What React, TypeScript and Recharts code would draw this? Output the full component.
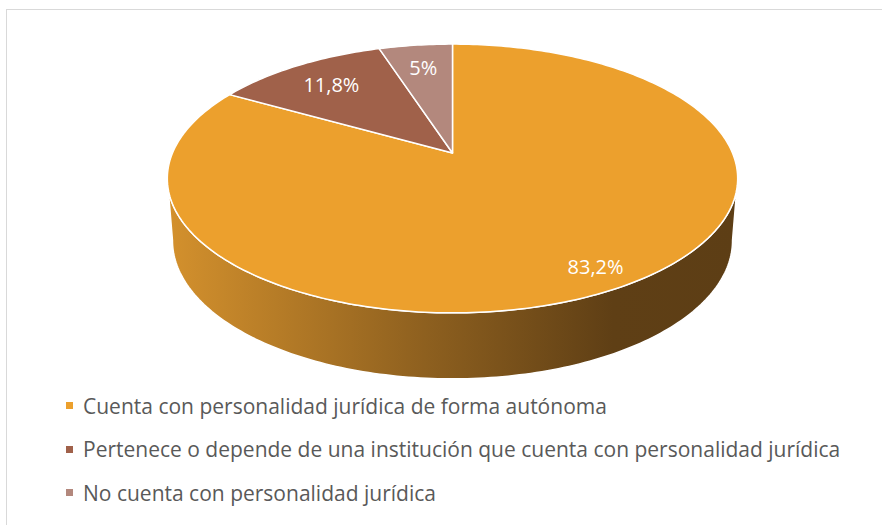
import React from "react";
import { PieChart, Pie, Cell, Legend } from "recharts";

const categories = [
  "Cuenta con personalidad jurídica de forma autónoma",
  "Pertenece o depende de una institución que cuenta con personalidad jurídica",
  "No cuenta con personalidad jurídica",
];
const shares = [83.2, 11.8, 5];
const colors = ["#ECA02D", "#A0614A", "#B3887D"];

const data = categories.map((name, i) => ({ name, value: shares[i], color: colors[i] }));

const FONT = "'Open Sans', sans-serif";
// fake 3d: tilt + a bit of perspective, back is farther away
const TILT = 0.4627;
const PERSP = 0.1896;
const SIDE_LO = -169.1; // visible outer wall, in degrees
const SIDE_HI = -10.9;

function project(cx: number, cy: number, r: number, deg: number, frac = 1) {
  const t = (deg * Math.PI) / 180;
  const u = Math.cos(t) * frac;
  const v = Math.sin(t) * frac;
  const w = 1 + PERSP * v;
  return [cx + (r * u) / w, cy - (r * TILT * v) / w];
}

function projectBottom(cx: number, cy: number, r: number, deg: number) {
  const t = (deg * Math.PI) / 180;
  const u = Math.cos(t);
  const v = Math.sin(t);
  const w = 1 + PERSP * v;
  return [cx + (0.982 * r * u) / w, cy - (r * TILT * v) / w + (61 - 5 * v)];
}

function arc(fn: (a: number) => number[], a: number, b: number) {
  const steps = Math.max(2, Math.ceil(Math.abs(b - a)));
  const pts: string[] = [];
  for (let i = 0; i <= steps; i++) {
    const p = fn(a + ((b - a) * i) / steps);
    pts.push(`${p[0].toFixed(2)},${p[1].toFixed(2)}`);
  }
  return pts;
}

const Slice3D = (props: any) => {
  const { cx, cy, outerRadius, startAngle, endAngle, fill, index } = props;
  const top = arc((a) => project(cx, cy, outerRadius, a), startAngle, endAngle);
  const topPath = `M${cx},${cy} L${top.join(" L")} Z`;

  const lo = Math.min(startAngle, endAngle);
  const hi = Math.max(startAngle, endAngle);
  const sides: string[] = [];
  for (const shift of [-360, 0, 360]) {
    const a = Math.max(lo, SIDE_LO + shift);
    const b = Math.min(hi, SIDE_HI + shift);
    if (a < b) {
      const t = arc((x) => project(cx, cy, outerRadius, x), a, b);
      const bt = arc((x) => projectBottom(cx, cy, outerRadius, x), b, a);
      sides.push(`M${t.join(" L")} L${bt.join(" L")} Z`);
    }
  }
  const gid = `side-grad-${index}`;
  return (
    <g>
      {sides.length > 0 && (
        <defs>
          <linearGradient id={gid} gradientUnits="userSpaceOnUse" x1={cx - outerRadius * 1.02} x2={cx + outerRadius * 1.02} y1={0} y2={0}>
            <stop offset="0%" stopColor="#D4912D" />
            <stop offset="45%" stopColor="#8E601F" />
            <stop offset="78%" stopColor="#5F3F15" />
            <stop offset="100%" stopColor="#5D3E15" />
          </linearGradient>
        </defs>
      )}
      {sides.map((d, i) => (
        <path key={i} d={d} fill={`url(#${gid})`} stroke="#ffffff" strokeWidth={1.5} strokeLinejoin="round" />
      ))}
      <path d={topPath} fill={fill} stroke="#ffffff" strokeWidth={1.5} strokeLinejoin="round" />
    </g>
  );
};

const renderLabel = (props: any) => {
  const { cx, cy, midAngle, outerRadius, value } = props;
  const frac = value > 50 ? 0.87 : 0.76;
  const [x, y] = project(cx, cy, outerRadius, midAngle, frac);
  return (
    <text x={x} y={y} fill="#ffffff" fontFamily={FONT} fontSize={20} textAnchor="middle" dominantBaseline="central">
      {String(value).replace(".", ",")}%
    </text>
  );
};

const renderLegend = (props: any) => {
  const items = [...(props.payload || [])].sort(
    (a: any, b: any) => categories.indexOf(a.value) - categories.indexOf(b.value)
  );
  return (
    <div style={{ fontFamily: FONT, fontSize: 21, color: "#595959" }}>
      {items.map((entry: any, i: number) => (
        <div key={i} style={{ display: "flex", alignItems: "center", height: 43.5, whiteSpace: "nowrap" }}>
          <span style={{ display: "inline-block", width: 7, height: 7, background: entry.color, marginRight: 10 }} />
          <span>{entry.value}</span>
        </div>
      ))}
    </div>
  );
};

export default function App() {
  return (
    <div style={{ position: "absolute", left: 0, top: 0, width: 882, height: 525, overflow: "hidden", background: "#fff" }}>
      <div
        style={{
          position: "absolute",
          left: 6,
          top: 9,
          width: 1000,
          height: 1000,
          borderLeft: "1.5px solid #d9d9d9",
          borderTop: "1.5px solid #d9d9d9",
        }}
      />
      <div style={{ position: "absolute", left: 0, top: 0 }}>
        <PieChart width={882} height={525} margin={{ top: 0, right: 0, bottom: 0, left: 0 }}>
          <Pie
            data={data}
            dataKey="value"
            nameKey="name"
            cx={452.5}
            cy={153}
            outerRadius={280}
            startAngle={90}
            endAngle={-270}
            stroke="none"
            isAnimationActive={false}
            shape={Slice3D}
            inactiveShape={Slice3D}
            activeShape={Slice3D}
            label={renderLabel}
            labelLine={false}
          >
            {data.map((d, i) => (
              <Cell key={`cell-${i}`} fill={d.color} />
            ))}
          </Pie>
          <Legend
            verticalAlign="bottom"
            align="left"
            layout="horizontal"
            content={renderLegend}
            wrapperStyle={{ left: 66, top: 384, bottom: "auto", width: "auto" }}
          />
        </PieChart>
      </div>
    </div>
  );
}
